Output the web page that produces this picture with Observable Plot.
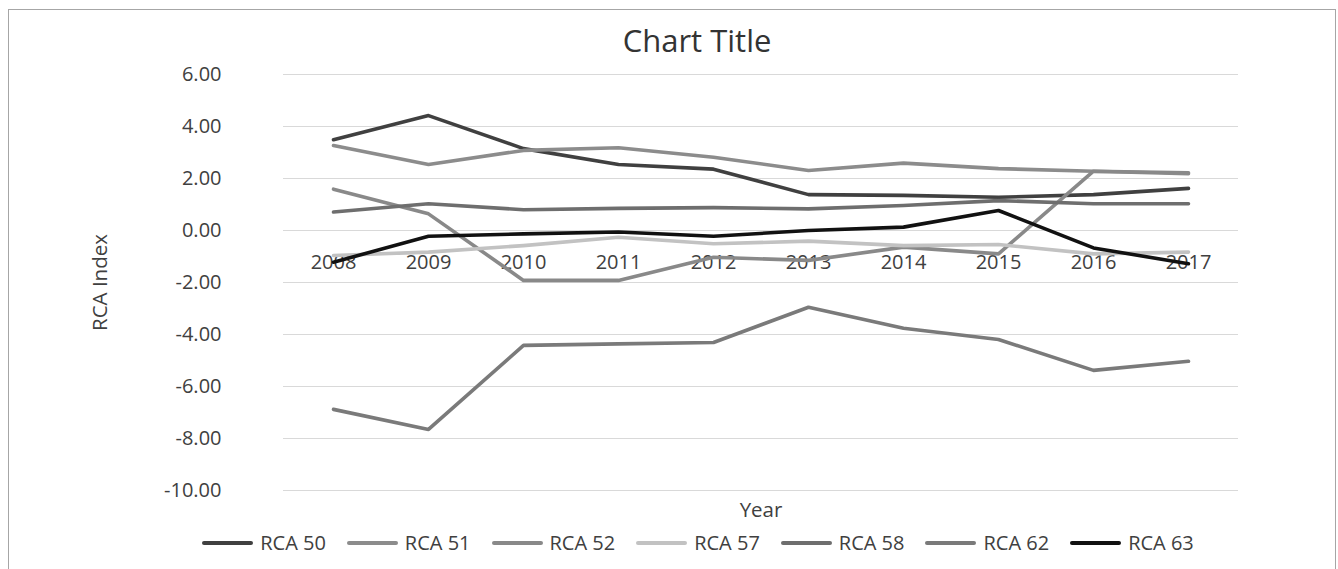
<!DOCTYPE html>
<html>
<head>
<meta charset="utf-8">
<script src="https://cdn.jsdelivr.net/npm/d3@7"></script>
<script src="https://cdn.jsdelivr.net/npm/@observablehq/plot@0.6"></script>
<style>
  html, body { margin: 0; padding: 0; background: #fff; }
  #wrap { position: relative; width: 1338px; height: 569px; overflow: hidden; font-family: "Open Sans", sans-serif; }
  #frame { position: absolute; left: 8px; top: 9px; width: 1328px; height: 620px; border: 1px solid #a6a6a6; box-sizing: border-box; }
  #title { position: absolute; left: 547px; width: 300px; top: 25px; text-align: center; font-size: 31px; line-height: 31px; color: #333; }
  #chart { position: absolute; left: 0; top: 60px; }
  #legend { position: absolute; left: 0; width: 1396px; top: 529px; display: flex; justify-content: center; font-size: 20px; line-height: 28px; color: #404040; }
  .item { display: flex; align-items: center; margin: 0 10.5px; }
  .sw { width: 51px; height: 4px; border-radius: 2px; margin-right: 7px; }
</style>
</head>
<body>
<div id="wrap">
  <div id="frame"></div>
  <div id="title">Chart Title</div>
  <div id="chart"></div>
  <div id="legend"></div>
</div>
<script>
const years = ["2008","2009","2010","2011","2012","2013","2014","2015","2016","2017"];
const seriesNames = ["RCA 50","RCA 51","RCA 52","RCA 57","RCA 58","RCA 62","RCA 63"];
const rca50 = [3.49, 4.42, 3.15, 2.54, 2.36, 1.38, 1.35, 1.28, 1.38, 1.62];
const rca51 = [3.27, 2.54, 3.08, 3.18, 2.82, 2.31, 2.59, 2.38, 2.28, 2.18];
const rca52 = [1.59, 0.64, -1.92, -1.92, -1.03, -1.15, -0.64, -0.90, 2.28, 2.22];
const rca57 = [-0.96, -0.83, -0.58, -0.26, -0.51, -0.41, -0.58, -0.54, -0.90, -0.83];
const rca58 = [0.71, 1.03, 0.80, 0.85, 0.88, 0.83, 0.96, 1.15, 1.03, 1.03];
const rca62 = [-6.88, -7.65, -4.42, -4.36, -4.31, -2.95, -3.76, -4.19, -5.38, -5.03];
const rca63 = [-1.22, -0.22, -0.13, -0.06, -0.22, 0.00, 0.13, 0.77, -0.67, -1.28];
const yTicks = [6, 4, 2, 0, -2, -4, -6, -8, -10];
const colors = ["#404040", "#8c8c8c", "#898989", "#c2c2c2", "#6e6e6e", "#7a7a7a", "#111111"];

const allValues = [rca50, rca51, rca52, rca57, rca58, rca62, rca63];
const rows = [];
seriesNames.forEach((s, i) => {
  years.forEach((yr, j) => rows.push({series: s, year: yr, value: allValues[i][j]}));
});

const chart = Plot.plot({
  width: 1338,
  height: 470,
  marginTop: 14,
  marginBottom: 40,
  marginLeft: 283,
  marginRight: 100,
  style: {fontFamily: "Open Sans, sans-serif", fontSize: "20px", color: "#404040", background: "transparent"},
  x: {type: "point", domain: years, padding: 0.5, axis: null},
  y: {domain: [-10, 6], axis: null},
  color: {domain: seriesNames, range: colors},
  marks: [
    Plot.ruleY(yTicks, {stroke: "#d9d9d9", strokeWidth: 1}),
    Plot.text(yTicks, {x: null, y: d => d, text: d => d3.format(".2f")(d).replace("−", "-"), frameAnchor: "left", textAnchor: "end", lineAnchor: "middle", dx: -62, fill: "#404040", fontSize: 20}),
    Plot.text(years, {x: d => d, y: 0, text: d => d, dy: 31.6, textAnchor: "middle", lineAnchor: "middle", fill: "#404040", fontSize: 20}),
    Plot.line(rows, {x: "year", y: "value", z: "series", stroke: "series", strokeWidth: 3.6, strokeLinejoin: "round", strokeLinecap: "round"}),
    Plot.text(["RCA Index"], {frameAnchor: "left", rotate: -90, dx: -183, textAnchor: "middle", lineAnchor: "middle", text: d => d, fill: "#404040", fontSize: 20.5}),
    Plot.text(["Year"], {frameAnchor: "bottom", dy: 20, textAnchor: "middle", lineAnchor: "middle", text: d => d, fill: "#404040", fontSize: 20.5})
  ]
});
document.getElementById("chart").appendChild(chart);

const legend = document.getElementById("legend");
seriesNames.forEach((s, i) => {
  const it = document.createElement("div");
  it.className = "item";
  const sw = document.createElement("span");
  sw.className = "sw";
  sw.style.background = colors[i];
  const lb = document.createElement("span");
  lb.textContent = s;
  it.appendChild(sw);
  it.appendChild(lb);
  legend.appendChild(it);
});
</script>
</body>
</html>
